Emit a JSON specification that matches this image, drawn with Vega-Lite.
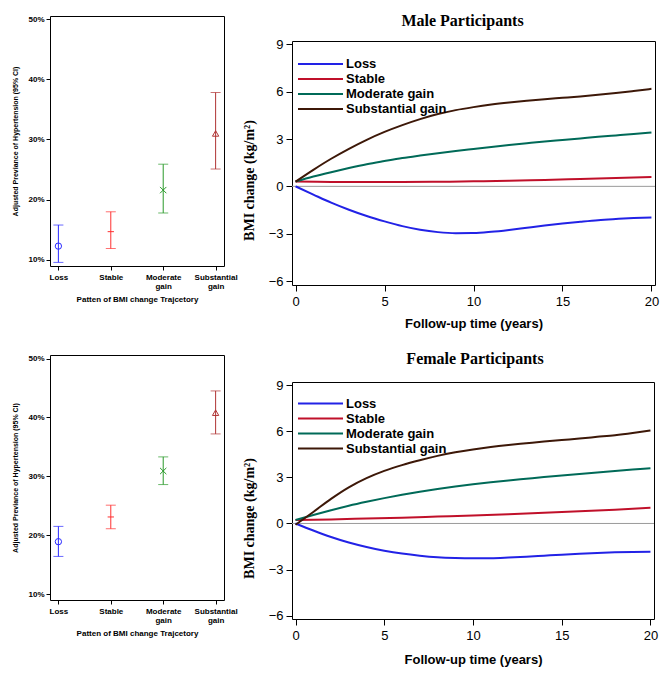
{
  "$schema": "https://vega.github.io/schema/vega-lite/v6.json",
  "autosize": {"type": "pad"},
  "padding": {"left": 11, "top": 13, "right": 5, "bottom": 3},
  "background": "white",
  "config": {
    "view": {"stroke": null},
    "axis": {"domainColor": "black", "tickColor": "black", "labelColor": "black", "titleColor": "black", "grid": false, "labelFont": "Liberation Sans", "titleFont": "Liberation Sans"}
  },
  "datasets": {
    "prev": [
      {"sex": "Male", "group": "Loss", "est": 12.3, "lo": 9.6, "hi": 15.8},
      {"sex": "Male", "group": "Stable", "est": 14.7, "lo": 11.9, "hi": 18.0},
      {"sex": "Male", "group": "Moderate gain", "est": 21.6, "lo": 17.8, "hi": 25.9},
      {"sex": "Male", "group": "Substantial gain", "est": 31.0, "lo": 25.1, "hi": 37.8},
      {"sex": "Female", "group": "Loss", "est": 18.9, "lo": 16.4, "hi": 21.5},
      {"sex": "Female", "group": "Stable", "est": 23.1, "lo": 21.1, "hi": 25.1},
      {"sex": "Female", "group": "Moderate gain", "est": 30.9, "lo": 28.6, "hi": 33.3},
      {"sex": "Female", "group": "Substantial gain", "est": 40.8, "lo": 37.2, "hi": 44.5}
    ],
    "traj": [
      {"sex": "Male", "group": "Loss", "year": 0, "bmi": 0},
      {"sex": "Male", "group": "Loss", "year": 1, "bmi": -0.52},
      {"sex": "Male", "group": "Loss", "year": 2, "bmi": -1.03},
      {"sex": "Male", "group": "Loss", "year": 3, "bmi": -1.48},
      {"sex": "Male", "group": "Loss", "year": 4, "bmi": -1.88},
      {"sex": "Male", "group": "Loss", "year": 5, "bmi": -2.22},
      {"sex": "Male", "group": "Loss", "year": 6, "bmi": -2.52},
      {"sex": "Male", "group": "Loss", "year": 7, "bmi": -2.75},
      {"sex": "Male", "group": "Loss", "year": 8, "bmi": -2.9},
      {"sex": "Male", "group": "Loss", "year": 9, "bmi": -2.97},
      {"sex": "Male", "group": "Loss", "year": 10, "bmi": -2.96},
      {"sex": "Male", "group": "Loss", "year": 11, "bmi": -2.88},
      {"sex": "Male", "group": "Loss", "year": 12, "bmi": -2.76},
      {"sex": "Male", "group": "Loss", "year": 13, "bmi": -2.62},
      {"sex": "Male", "group": "Loss", "year": 14, "bmi": -2.48},
      {"sex": "Male", "group": "Loss", "year": 15, "bmi": -2.35},
      {"sex": "Male", "group": "Loss", "year": 16, "bmi": -2.24},
      {"sex": "Male", "group": "Loss", "year": 17, "bmi": -2.14},
      {"sex": "Male", "group": "Loss", "year": 18, "bmi": -2.07},
      {"sex": "Male", "group": "Loss", "year": 19, "bmi": -2.01},
      {"sex": "Male", "group": "Loss", "year": 20, "bmi": -1.97},
      {"sex": "Male", "group": "Stable", "year": 0, "bmi": 0.3},
      {"sex": "Male", "group": "Stable", "year": 2, "bmi": 0.28},
      {"sex": "Male", "group": "Stable", "year": 4, "bmi": 0.27},
      {"sex": "Male", "group": "Stable", "year": 6, "bmi": 0.27},
      {"sex": "Male", "group": "Stable", "year": 8, "bmi": 0.29},
      {"sex": "Male", "group": "Stable", "year": 10, "bmi": 0.32},
      {"sex": "Male", "group": "Stable", "year": 12, "bmi": 0.36},
      {"sex": "Male", "group": "Stable", "year": 14, "bmi": 0.41},
      {"sex": "Male", "group": "Stable", "year": 16, "bmi": 0.47},
      {"sex": "Male", "group": "Stable", "year": 18, "bmi": 0.53},
      {"sex": "Male", "group": "Stable", "year": 20, "bmi": 0.6},
      {"sex": "Male", "group": "Moderate gain", "year": 0, "bmi": 0.3},
      {"sex": "Male", "group": "Moderate gain", "year": 1, "bmi": 0.62},
      {"sex": "Male", "group": "Moderate gain", "year": 2, "bmi": 0.9},
      {"sex": "Male", "group": "Moderate gain", "year": 3, "bmi": 1.16},
      {"sex": "Male", "group": "Moderate gain", "year": 4, "bmi": 1.4},
      {"sex": "Male", "group": "Moderate gain", "year": 5, "bmi": 1.6},
      {"sex": "Male", "group": "Moderate gain", "year": 6, "bmi": 1.79},
      {"sex": "Male", "group": "Moderate gain", "year": 7, "bmi": 1.95},
      {"sex": "Male", "group": "Moderate gain", "year": 8, "bmi": 2.1},
      {"sex": "Male", "group": "Moderate gain", "year": 9, "bmi": 2.24},
      {"sex": "Male", "group": "Moderate gain", "year": 10, "bmi": 2.37},
      {"sex": "Male", "group": "Moderate gain", "year": 11, "bmi": 2.5},
      {"sex": "Male", "group": "Moderate gain", "year": 12, "bmi": 2.62},
      {"sex": "Male", "group": "Moderate gain", "year": 13, "bmi": 2.73},
      {"sex": "Male", "group": "Moderate gain", "year": 14, "bmi": 2.84},
      {"sex": "Male", "group": "Moderate gain", "year": 15, "bmi": 2.94},
      {"sex": "Male", "group": "Moderate gain", "year": 16, "bmi": 3.04},
      {"sex": "Male", "group": "Moderate gain", "year": 17, "bmi": 3.14},
      {"sex": "Male", "group": "Moderate gain", "year": 18, "bmi": 3.23},
      {"sex": "Male", "group": "Moderate gain", "year": 19, "bmi": 3.32},
      {"sex": "Male", "group": "Moderate gain", "year": 20, "bmi": 3.42},
      {"sex": "Male", "group": "Substantial gain", "year": 0, "bmi": 0.3},
      {"sex": "Male", "group": "Substantial gain", "year": 1, "bmi": 1.05},
      {"sex": "Male", "group": "Substantial gain", "year": 2, "bmi": 1.75},
      {"sex": "Male", "group": "Substantial gain", "year": 3, "bmi": 2.38},
      {"sex": "Male", "group": "Substantial gain", "year": 4, "bmi": 2.95},
      {"sex": "Male", "group": "Substantial gain", "year": 5, "bmi": 3.45},
      {"sex": "Male", "group": "Substantial gain", "year": 6, "bmi": 3.88},
      {"sex": "Male", "group": "Substantial gain", "year": 7, "bmi": 4.26},
      {"sex": "Male", "group": "Substantial gain", "year": 8, "bmi": 4.58},
      {"sex": "Male", "group": "Substantial gain", "year": 9, "bmi": 4.83},
      {"sex": "Male", "group": "Substantial gain", "year": 10, "bmi": 5.02},
      {"sex": "Male", "group": "Substantial gain", "year": 11, "bmi": 5.18},
      {"sex": "Male", "group": "Substantial gain", "year": 12, "bmi": 5.31},
      {"sex": "Male", "group": "Substantial gain", "year": 13, "bmi": 5.42},
      {"sex": "Male", "group": "Substantial gain", "year": 14, "bmi": 5.52},
      {"sex": "Male", "group": "Substantial gain", "year": 15, "bmi": 5.61},
      {"sex": "Male", "group": "Substantial gain", "year": 16, "bmi": 5.7},
      {"sex": "Male", "group": "Substantial gain", "year": 17, "bmi": 5.8},
      {"sex": "Male", "group": "Substantial gain", "year": 18, "bmi": 5.91},
      {"sex": "Male", "group": "Substantial gain", "year": 19, "bmi": 6.04},
      {"sex": "Male", "group": "Substantial gain", "year": 20, "bmi": 6.18},
      {"sex": "Female", "group": "Loss", "year": 0, "bmi": 0},
      {"sex": "Female", "group": "Loss", "year": 1, "bmi": -0.46},
      {"sex": "Female", "group": "Loss", "year": 2, "bmi": -0.88},
      {"sex": "Female", "group": "Loss", "year": 3, "bmi": -1.24},
      {"sex": "Female", "group": "Loss", "year": 4, "bmi": -1.53},
      {"sex": "Female", "group": "Loss", "year": 5, "bmi": -1.77},
      {"sex": "Female", "group": "Loss", "year": 6, "bmi": -1.96},
      {"sex": "Female", "group": "Loss", "year": 7, "bmi": -2.1},
      {"sex": "Female", "group": "Loss", "year": 8, "bmi": -2.2},
      {"sex": "Female", "group": "Loss", "year": 9, "bmi": -2.25},
      {"sex": "Female", "group": "Loss", "year": 10, "bmi": -2.27},
      {"sex": "Female", "group": "Loss", "year": 11, "bmi": -2.26},
      {"sex": "Female", "group": "Loss", "year": 12, "bmi": -2.22},
      {"sex": "Female", "group": "Loss", "year": 13, "bmi": -2.17},
      {"sex": "Female", "group": "Loss", "year": 14, "bmi": -2.1},
      {"sex": "Female", "group": "Loss", "year": 15, "bmi": -2.03},
      {"sex": "Female", "group": "Loss", "year": 16, "bmi": -1.97},
      {"sex": "Female", "group": "Loss", "year": 17, "bmi": -1.92},
      {"sex": "Female", "group": "Loss", "year": 18, "bmi": -1.88},
      {"sex": "Female", "group": "Loss", "year": 19, "bmi": -1.85},
      {"sex": "Female", "group": "Loss", "year": 20, "bmi": -1.84},
      {"sex": "Female", "group": "Stable", "year": 0, "bmi": 0.22},
      {"sex": "Female", "group": "Stable", "year": 2, "bmi": 0.26},
      {"sex": "Female", "group": "Stable", "year": 4, "bmi": 0.32},
      {"sex": "Female", "group": "Stable", "year": 6, "bmi": 0.38},
      {"sex": "Female", "group": "Stable", "year": 8, "bmi": 0.45},
      {"sex": "Female", "group": "Stable", "year": 10, "bmi": 0.52},
      {"sex": "Female", "group": "Stable", "year": 12, "bmi": 0.6},
      {"sex": "Female", "group": "Stable", "year": 14, "bmi": 0.7},
      {"sex": "Female", "group": "Stable", "year": 16, "bmi": 0.8},
      {"sex": "Female", "group": "Stable", "year": 18, "bmi": 0.9},
      {"sex": "Female", "group": "Stable", "year": 20, "bmi": 1.03},
      {"sex": "Female", "group": "Moderate gain", "year": 0, "bmi": 0.22},
      {"sex": "Female", "group": "Moderate gain", "year": 1, "bmi": 0.55},
      {"sex": "Female", "group": "Moderate gain", "year": 2, "bmi": 0.86},
      {"sex": "Female", "group": "Moderate gain", "year": 3, "bmi": 1.15},
      {"sex": "Female", "group": "Moderate gain", "year": 4, "bmi": 1.41},
      {"sex": "Female", "group": "Moderate gain", "year": 5, "bmi": 1.65},
      {"sex": "Female", "group": "Moderate gain", "year": 6, "bmi": 1.87},
      {"sex": "Female", "group": "Moderate gain", "year": 7, "bmi": 2.07},
      {"sex": "Female", "group": "Moderate gain", "year": 8, "bmi": 2.25},
      {"sex": "Female", "group": "Moderate gain", "year": 9, "bmi": 2.41},
      {"sex": "Female", "group": "Moderate gain", "year": 10, "bmi": 2.55},
      {"sex": "Female", "group": "Moderate gain", "year": 11, "bmi": 2.68},
      {"sex": "Female", "group": "Moderate gain", "year": 12, "bmi": 2.8},
      {"sex": "Female", "group": "Moderate gain", "year": 13, "bmi": 2.91},
      {"sex": "Female", "group": "Moderate gain", "year": 14, "bmi": 3.02},
      {"sex": "Female", "group": "Moderate gain", "year": 15, "bmi": 3.12},
      {"sex": "Female", "group": "Moderate gain", "year": 16, "bmi": 3.22},
      {"sex": "Female", "group": "Moderate gain", "year": 17, "bmi": 3.32},
      {"sex": "Female", "group": "Moderate gain", "year": 18, "bmi": 3.42},
      {"sex": "Female", "group": "Moderate gain", "year": 19, "bmi": 3.51},
      {"sex": "Female", "group": "Moderate gain", "year": 20, "bmi": 3.6},
      {"sex": "Female", "group": "Substantial gain", "year": 0, "bmi": -0.08},
      {"sex": "Female", "group": "Substantial gain", "year": 1, "bmi": 0.75},
      {"sex": "Female", "group": "Substantial gain", "year": 2, "bmi": 1.6},
      {"sex": "Female", "group": "Substantial gain", "year": 3, "bmi": 2.35},
      {"sex": "Female", "group": "Substantial gain", "year": 4, "bmi": 2.95},
      {"sex": "Female", "group": "Substantial gain", "year": 5, "bmi": 3.42},
      {"sex": "Female", "group": "Substantial gain", "year": 6, "bmi": 3.8},
      {"sex": "Female", "group": "Substantial gain", "year": 7, "bmi": 4.12},
      {"sex": "Female", "group": "Substantial gain", "year": 8, "bmi": 4.4},
      {"sex": "Female", "group": "Substantial gain", "year": 9, "bmi": 4.63},
      {"sex": "Female", "group": "Substantial gain", "year": 10, "bmi": 4.82},
      {"sex": "Female", "group": "Substantial gain", "year": 11, "bmi": 4.98},
      {"sex": "Female", "group": "Substantial gain", "year": 12, "bmi": 5.11},
      {"sex": "Female", "group": "Substantial gain", "year": 13, "bmi": 5.22},
      {"sex": "Female", "group": "Substantial gain", "year": 14, "bmi": 5.33},
      {"sex": "Female", "group": "Substantial gain", "year": 15, "bmi": 5.43},
      {"sex": "Female", "group": "Substantial gain", "year": 16, "bmi": 5.53},
      {"sex": "Female", "group": "Substantial gain", "year": 17, "bmi": 5.64},
      {"sex": "Female", "group": "Substantial gain", "year": 18, "bmi": 5.75},
      {"sex": "Female", "group": "Substantial gain", "year": 19, "bmi": 5.89},
      {"sex": "Female", "group": "Substantial gain", "year": 20, "bmi": 6.05}
    ]
  },
  "columns": 2,
  "spacing": {"row": 21, "column": 4},
  "resolve": {"scale": {"color": "independent", "shape": "independent"}, "legend": {"color": "independent", "shape": "independent"}},
  "concat": [
    {
      "width": 174, "height": 250,
      "data": {"name": "prev"},
      "transform": [{"filter": "datum.sex == 'Male'"}],
      "resolve": {"axis": {"x": "independent", "y": "independent"}},
      "layer": [
        {
          "encoding": {
            "x": {"field": "group", "type": "nominal", "sort": ["Loss", "Stable", "Moderate gain", "Substantial gain"], "scale": {"type": "point", "padding": 0.16},
              "axis": {"title": "Patten of BMI change Trajcetory", "labelAngle": 0, "labelExpr": "split(datum.label, ' ')", "labelFontSize": 8, "labelFontWeight": "bold", "labelLineHeight": 9, "labelPadding": 3, "tickSize": 4, "titleFontSize": 8, "titleFontWeight": "bold", "titlePadding": 5}},
            "color": {"field": "group", "type": "nominal", "scale": {"domain": ["Loss", "Stable", "Moderate gain", "Substantial gain"], "range": ["#2a2aff", "#ff3030", "#2a9a2a", "#b03434"]}, "legend": null}
          },
          "layer": [
            {"mark": {"type": "rule", "strokeWidth": 1},
             "encoding": {"y": {"field": "lo", "type": "quantitative", "title": "Adjusted Previance of Hypertension (95% CI)", "scale": {"domain": [9, 50.5], "nice": false, "zero": false},
               "axis": {"values": [10, 20, 30, 40, 50], "labelExpr": "datum.value + '%'", "labelFontSize": 8, "labelFontWeight": "bold", "tickSize": 4, "labelPadding": 2, "titleFontSize": 7, "titleFontWeight": "bold", "titlePadding": 9}},
               "y2": {"field": "hi"}}},
            {"mark": {"type": "tick", "size": 10, "thickness": 1}, "encoding": {"y": {"field": "lo", "type": "quantitative", "title": "Adjusted Previance of Hypertension (95% CI)"}}},
            {"mark": {"type": "tick", "size": 10, "thickness": 1}, "encoding": {"y": {"field": "hi", "type": "quantitative", "title": "Adjusted Previance of Hypertension (95% CI)"}}},
            {"mark": {"type": "point", "filled": false, "strokeWidth": 1, "size": 40, "opacity": 1},
             "encoding": {"y": {"field": "est", "type": "quantitative", "title": "Adjusted Previance of Hypertension (95% CI)"},
               "shape": {"field": "group", "type": "nominal", "scale": {"domain": ["Loss", "Stable", "Moderate gain", "Substantial gain"], "range": ["circle", "stroke", "M-1,-1L1,1M-1,1L1,-1", "triangle-up"]}, "legend": null}}}
          ]
        },
        {
          "mark": {"type": "point", "opacity": 0},
          "encoding": {
            "x": {"field": "group", "type": "nominal", "sort": ["Loss", "Stable", "Moderate gain", "Substantial gain"], "axis": {"orient": "top", "labels": false, "ticks": false, "title": null}},
            "y": {"field": "est", "type": "quantitative", "axis": {"orient": "right", "labels": false, "ticks": false, "title": null}}
          }
        }
      ]
    },
    {
      "width": 363, "height": 269,
      "title": {"text": "Male Participants", "font": "Liberation Serif", "fontSize": 16, "fontWeight": "bold", "offset": -13, "anchor": "middle", "dx": -11, "color": "black"},
      "resolve": {"axis": {"x": "independent", "y": "independent"}},
      "layer": [
        {"data": {"values": [{"ref": 0}]}, "mark": {"type": "rule", "color": "#9a9a9a", "strokeWidth": 1},
         "encoding": {"y": {"field": "ref", "type": "quantitative", "axis": null}}},
        {"data": {"name": "traj"}, "transform": [{"filter": "datum.sex == 'Male'"}],
         "mark": {"type": "line", "interpolate": "monotone", "strokeWidth": 2},
         "encoding": {
           "x": {"field": "year", "type": "quantitative", "title": "Follow-up time (years)", "scale": {"domain": [-0.2, 20.2], "nice": false},
             "axis": {"values": [0, 5, 10, 15, 20], "labelFontSize": 13, "tickSize": 6, "labelPadding": 4, "titleFontSize": 13, "titleFontWeight": "bold", "titlePadding": 9}},
           "y": {"field": "bmi", "type": "quantitative", "title": "BMI change (kg/m²)", "scale": {"domain": [-6.25, 9.21], "range": [269, 25], "nice": false, "zero": false},
             "axis": {"values": [-6, -3, 0, 3, 6, 9], "labelFontSize": 13, "tickSize": 6, "labelPadding": 3, "titleFont": "Liberation Serif", "titleFontSize": 14, "titleFontWeight": "bold", "titlePadding": 12, "titleY": 164}},
           "color": {"field": "group", "type": "nominal", "scale": {"domain": ["Loss", "Stable", "Moderate gain", "Substantial gain"], "range": ["#2222e6", "#c0102a", "#006a58", "#3d1808"]},
             "legend": {"orient": "none", "legendX": 5, "legendY": 40.5, "title": null, "symbolType": "stroke", "symbolSize": 2025, "symbolStrokeWidth": 2, "clipHeight": 15, "rowPadding": 0, "labelFont": "Liberation Sans", "labelFontSize": 13, "labelFontWeight": "bold", "labelColor": "black", "labelOffset": 2}}
         }},
        {"data": {"name": "traj"}, "transform": [{"filter": "datum.sex == 'Male'"}],
         "mark": {"type": "point", "opacity": 0},
         "encoding": {
           "x": {"field": "year", "type": "quantitative", "axis": {"orient": "top", "offset": -25, "labels": false, "ticks": false, "title": null}},
           "y": {"field": "bmi", "type": "quantitative", "axis": {"orient": "right", "labels": false, "ticks": false, "title": null}}
         }}
      ]
    },
    {
      "width": 174, "height": 245,
      "data": {"name": "prev"},
      "transform": [{"filter": "datum.sex == 'Female'"}],
      "resolve": {"axis": {"x": "independent", "y": "independent"}},
      "layer": [
        {
          "encoding": {
            "x": {"field": "group", "type": "nominal", "sort": ["Loss", "Stable", "Moderate gain", "Substantial gain"], "scale": {"type": "point", "padding": 0.16},
              "axis": {"title": "Patten of BMI change Trajcetory", "labelAngle": 0, "labelExpr": "split(datum.label, ' ')", "labelFontSize": 8, "labelFontWeight": "bold", "labelLineHeight": 9, "labelPadding": 3, "tickSize": 4, "titleFontSize": 8, "titleFontWeight": "bold", "titlePadding": 5}},
            "color": {"field": "group", "type": "nominal", "scale": {"domain": ["Loss", "Stable", "Moderate gain", "Substantial gain"], "range": ["#2a2aff", "#ff3030", "#2a9a2a", "#b03434"]}, "legend": null}
          },
          "layer": [
            {"mark": {"type": "rule", "strokeWidth": 1},
             "encoding": {"y": {"field": "lo", "type": "quantitative", "title": "Adjusted Previance of Hypertension (95% CI)", "scale": {"domain": [9, 50.6], "nice": false, "zero": false},
               "axis": {"values": [10, 20, 30, 40, 50], "labelExpr": "datum.value + '%'", "labelFontSize": 8, "labelFontWeight": "bold", "tickSize": 4, "labelPadding": 2, "titleFontSize": 7, "titleFontWeight": "bold", "titlePadding": 9}},
               "y2": {"field": "hi"}}},
            {"mark": {"type": "tick", "size": 10, "thickness": 1}, "encoding": {"y": {"field": "lo", "type": "quantitative", "title": "Adjusted Previance of Hypertension (95% CI)"}}},
            {"mark": {"type": "tick", "size": 10, "thickness": 1}, "encoding": {"y": {"field": "hi", "type": "quantitative", "title": "Adjusted Previance of Hypertension (95% CI)"}}},
            {"mark": {"type": "point", "filled": false, "strokeWidth": 1, "size": 40, "opacity": 1},
             "encoding": {"y": {"field": "est", "type": "quantitative", "title": "Adjusted Previance of Hypertension (95% CI)"},
               "shape": {"field": "group", "type": "nominal", "scale": {"domain": ["Loss", "Stable", "Moderate gain", "Substantial gain"], "range": ["circle", "stroke", "M-1,-1L1,1M-1,1L1,-1", "triangle-up"]}, "legend": null}}}
          ]
        },
        {
          "mark": {"type": "point", "opacity": 0},
          "encoding": {
            "x": {"field": "group", "type": "nominal", "sort": ["Loss", "Stable", "Moderate gain", "Substantial gain"], "axis": {"orient": "top", "labels": false, "ticks": false, "title": null}},
            "y": {"field": "est", "type": "quantitative", "axis": {"orient": "right", "labels": false, "ticks": false, "title": null}}
          }
        }
      ]
    },
    {
      "width": 362, "height": 264,
      "title": {"text": "Female Participants", "font": "Liberation Serif", "fontSize": 16, "fontWeight": "bold", "offset": -12, "anchor": "middle", "dx": 2, "color": "black"},
      "resolve": {"axis": {"x": "independent", "y": "independent"}},
      "layer": [
        {"data": {"values": [{"ref": 0}]}, "mark": {"type": "rule", "color": "#9a9a9a", "strokeWidth": 1},
         "encoding": {"y": {"field": "ref", "type": "quantitative", "axis": null}}},
        {"data": {"name": "traj"}, "transform": [{"filter": "datum.sex == 'Female'"}],
         "mark": {"type": "line", "interpolate": "monotone", "strokeWidth": 2},
         "encoding": {
           "x": {"field": "year", "type": "quantitative", "title": "Follow-up time (years)", "scale": {"domain": [-0.2, 20.2], "nice": false},
             "axis": {"values": [0, 5, 10, 15, 20], "labelFontSize": 13, "tickSize": 6, "labelPadding": 4, "titleFontSize": 13, "titleFontWeight": "bold", "titlePadding": 11}},
           "y": {"field": "bmi", "type": "quantitative", "title": "BMI change (kg/m²)", "scale": {"domain": [-6.22, 9.21], "range": [264, 27], "nice": false, "zero": false},
             "axis": {"values": [-6, -3, 0, 3, 6, 9], "labelFontSize": 13, "tickSize": 6, "labelPadding": 3, "titleFont": "Liberation Serif", "titleFontSize": 14, "titleFontWeight": "bold", "titlePadding": 12, "titleY": 163}},
           "color": {"field": "group", "type": "nominal", "scale": {"domain": ["Loss", "Stable", "Moderate gain", "Substantial gain"], "range": ["#2222e6", "#c0102a", "#006a58", "#3d1808"]},
             "legend": {"orient": "none", "legendX": 5, "legendY": 41, "title": null, "symbolType": "stroke", "symbolSize": 2025, "symbolStrokeWidth": 2, "clipHeight": 15, "rowPadding": 0, "labelFont": "Liberation Sans", "labelFontSize": 13, "labelFontWeight": "bold", "labelColor": "black", "labelOffset": 2}}
         }},
        {"data": {"name": "traj"}, "transform": [{"filter": "datum.sex == 'Female'"}],
         "mark": {"type": "point", "opacity": 0},
         "encoding": {
           "x": {"field": "year", "type": "quantitative", "axis": {"orient": "top", "offset": -27, "labels": false, "ticks": false, "title": null}},
           "y": {"field": "bmi", "type": "quantitative", "axis": {"orient": "right", "labels": false, "ticks": false, "title": null}}
         }}
      ]
    }
  ]
}
